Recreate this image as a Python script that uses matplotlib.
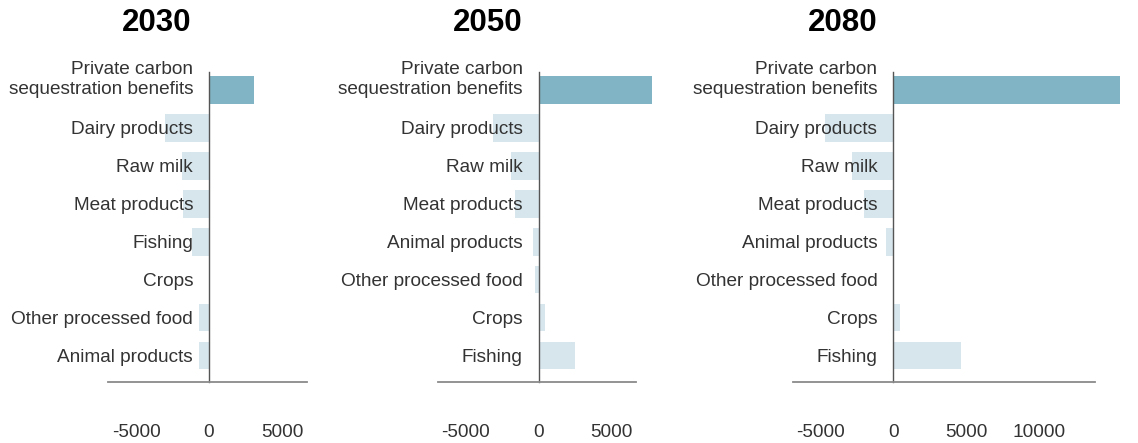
import matplotlib
matplotlib.use("Agg")
import matplotlib.pyplot as plt

plt.rcParams["font.family"] = ["Liberation Sans", "DejaVu Sans"]
plt.rcParams["axes.unicode_minus"] = False

# values
YEARS = ["2030", "2050", "2080"]

LABELS_2030 = ["Private carbon\nsequestration benefits", "Dairy products", "Raw milk",
               "Meat products", "Fishing", "Crops", "Other processed food", "Animal products"]
VALUES_2030 = [3080, -3010, -1850, -1780, -1160, 70, -690, -690]

LABELS_2050 = ["Private carbon\nsequestration benefits", "Dairy products", "Raw milk",
               "Meat products", "Animal products", "Other processed food", "Crops", "Fishing"]
VALUES_2050 = [7740, -3130, -1900, -1620, -390, -250, 430, 2490]

LABELS_2080 = ["Private carbon\nsequestration benefits", "Dairy products", "Raw milk",
               "Meat products", "Animal products", "Other processed food", "Crops", "Fishing"]
VALUES_2080 = [15550, -4660, -2800, -2000, -500, 0, 460, 4640]

TICKS_A = [-5000, 0, 5000]
TICKS_B = [-5000, 0, 5000, 10000]

DARK = "#81b4c4"
LIGHT = "#d7e6ed"

W, H = 1138, 443
fig = plt.figure(figsize=(W / 100, H / 100), dpi=100)

# (left px, right px, xlim, ticks, title x px)
panels = [
    (108, 307, (-6920, 6710), TICKS_A, 157, LABELS_2030, VALUES_2030),
    (438, 636, (-6900, 6665), TICKS_A, 488, LABELS_2050, VALUES_2050),
    (793, 1095, (-6870, 13820), TICKS_B, 843, LABELS_2080, VALUES_2080),
]

bottom = (H - 382) / H
top = (H - 71.5) / H

for (lpx, rpx, xlim, ticks, tx, labels, values), year in zip(panels, YEARS):
    ax = fig.add_axes([lpx / W, bottom, (rpx - lpx) / W, top - bottom])
    colors = [DARK] + [LIGHT] * (len(values) - 1)
    ypos = list(range(len(values)))
    bars = ax.barh(ypos, values, height=0.73, color=colors, zorder=1)
    for b in bars:
        b.set_clip_on(False)
    ax.set_xlim(*xlim)
    ax.set_ylim(7.70, -0.49)

    ax.spines["top"].set_visible(False)
    ax.spines["right"].set_visible(False)
    ax.spines["left"].set_position(("data", 0))
    ax.spines["left"].set_color("#555555")
    ax.spines["left"].set_linewidth(1.0)
    ax.spines["bottom"].set_color("#8a8a8a")
    ax.spines["bottom"].set_linewidth(1.3)

    # two-line first label sits with its last line on the bar
    ax.set_yticks(ypos)
    ax.set_yticklabels([""] + labels[1:], fontsize=13.7, color="#333333")
    ax.tick_params(axis="y", length=0, pad=11.5)
    ax.annotate(labels[0], xy=(0, ypos[0]), xytext=(-16, -4), textcoords="offset pixels",
                ha="right", va="baseline", fontsize=13.7, color="#333333",
                linespacing=1.2, zorder=3)

    ax.set_xticks(ticks)
    ax.set_xticklabels([str(t) for t in ticks], fontsize=13.7, color="#333333")
    ax.tick_params(axis="x", length=0, pad=30)

    fig.text(tx / W, 1 - 23 / H, year, ha="center", va="center",
             fontsize=22.5, fontweight="bold", color="black")

fig.savefig("out.png", dpi=100)
